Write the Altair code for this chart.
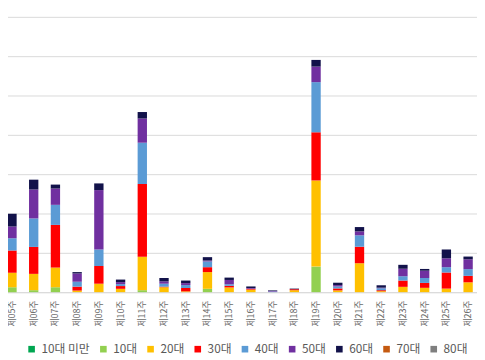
import altair as alt
import pandas as pd

weeks = ["제05주", "제06주", "제07주", "제08주", "제09주", "제10주", "제11주", "제12주",
         "제13주", "제14주", "제15주", "제16주", "제17주", "제18주", "제19주", "제20주",
         "제21주", "제22주", "제23주", "제24주", "제25주", "제26주"]

ages = ["10대 미만", "10대", "20대", "30대", "40대", "50대", "60대", "70대", "80대"]
colors = ["#00A651", "#92D050", "#FFC000", "#FF0000", "#5B9BD5", "#7030A0", "#12124A", "#C55A11", "#7F7F7F"]

v_under10 = [0, 0, 0, 0, 0, 0, 0, 0, 0, 0, 0, 0, 0, 0, 0, 0, 0, 0, 0, 0, 0, 0]
v_10s = [2.5, 1.0, 2.5, 0, 0, 0, 1.0, 0, 0, 1.7, 0, 0, 0, 0, 13.0, 0, 0, 0, 0, 0, 0, 0]
v_20s = [7.4, 8.3, 10.0, 0.8, 4.3, 1.7, 17.0, 2.5, 0.4, 8.5, 2.4, 1.3, 0, 1.0, 43.8, 0.9, 14.7, 0.5, 2.7, 2.2, 1.8, 5.0]
v_30s = [11.3, 13.7, 21.7, 2.0, 9.0, 1.4, 37.0, 0.3, 1.7, 2.5, 0.8, 0.4, 0, 0.5, 24.5, 1.0, 8.4, 0.5, 3.2, 2.5, 8.2, 3.3]
v_40s = [6.2, 14.5, 10.2, 2.5, 8.4, 1.0, 21.0, 1.5, 1.5, 2.9, 0.8, 0, 0.3, 0, 25.5, 1.0, 5.8, 1.0, 2.2, 2.5, 2.7, 3.4]
v_50s = [6.0, 14.7, 8.3, 4.2, 30.2, 1.0, 12.3, 1.2, 1.0, 0.5, 2.2, 0.4, 0.3, 0, 7.9, 0.7, 2.0, 0.3, 3.8, 3.7, 4.5, 5.0]
v_60s = [6.5, 5.0, 2.0, 0.7, 3.4, 1.3, 3.3, 1.7, 1.3, 1.7, 1.2, 0.8, 0.3, 0.3, 3.4, 1.2, 2.2, 1.2, 2.0, 0.9, 4.5, 1.4]
v_70s = [0, 0, 0, 0, 0, 0, 0, 0, 0, 0, 0, 0, 0, 0, 0, 0, 0, 0, 0, 0, 0, 0]
v_80s = [0, 0, 0, 0, 0, 0, 0, 0, 0, 0, 0, 0, 0, 0, 0, 0, 0, 0, 0, 0, 0, 0]

series = [v_under10, v_10s, v_20s, v_30s, v_40s, v_50s, v_60s, v_70s, v_80s]

rows = []
for ai, (age, vals) in enumerate(zip(ages, series)):
    for w, v in zip(weeks, vals):
        rows.append({"week": w, "age": age, "idx": ai, "value": v})
df = pd.DataFrame(rows)

font = "Noto Sans CJK KR"

chart = alt.Chart(df).mark_bar().encode(
    x=alt.X("week:N", sort=weeks,
            scale=alt.Scale(range=[-7, 479], paddingInner=0.57, paddingOuter=0.285),
            axis=alt.Axis(title=None, labelAngle=270, ticks=False, labelFontSize=9,
                          labelColor="#6b6b6b", labelFont=font, domainColor="#d9d9d9",
                          labelPadding=8, grid=False)),
    y=alt.Y("value:Q", stack="zero",
            scale=alt.Scale(domain=[0, 140], nice=False),
            axis=alt.Axis(title=None, labels=False, ticks=False, domain=False,
                          values=[0, 20, 40, 60, 80, 100, 120, 140], gridColor="#d9d9d9")),
    color=alt.Color("age:N", sort=ages,
                    scale=alt.Scale(domain=ages, range=colors),
                    legend=alt.Legend(orient="none", legendX=18, legendY=332,
                                      direction="horizontal", title=None,
                                      symbolType="square", symbolSize=45,
                                      symbolStrokeWidth=0, labelFontSize=12,
                                      labelColor="#595959", labelFont=font,
                                      columnPadding=7, labelOffset=4)),
    order=alt.Order("idx:Q", sort="ascending"),
).properties(
    width=477, height=280,
    padding={"top": 6, "left": 0, "right": 0, "bottom": 66},
    autosize=alt.AutoSizeParams(type="none"),
).configure_view(stroke=None)

chart.save("out.html", embed_options={"renderer": "svg", "actions": False})
